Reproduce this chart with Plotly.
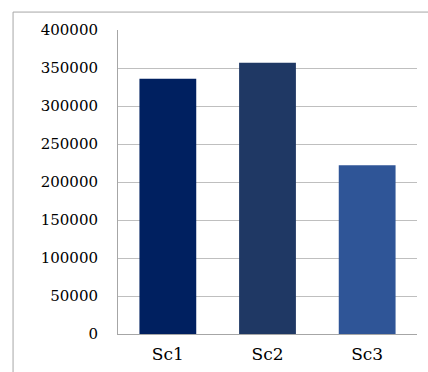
import plotly.graph_objects as go

categories = ["Sc1", "Sc2", "Sc3"]
values = [336000, 357000, 222000]
bar_colors = ["#002060", "#1F3864", "#2F5597"]
y_ticks = [0, 50000, 100000, 150000, 200000, 250000, 300000, 350000, 400000]

SERIF = "DejaVu Serif"

fig = go.Figure(
    go.Bar(
        x=categories,
        y=values,
        marker=dict(color=bar_colors, line=dict(width=0)),
        width=0.57,
    )
)

fig.update_layout(
    width=428,
    height=372,
    margin=dict(l=118, r=11, t=30, b=38),
    paper_bgcolor="white",
    plot_bgcolor="white",
    showlegend=False,
    font=dict(family=SERIF, color="#000000"),
    shapes=[
        dict(type="line", xref="paper", yref="paper", x0=-0.351, x1=1.2, y0=1.059, y1=1.059,
             line=dict(color="#a6a6a6", width=1)),
        dict(type="line", xref="paper", yref="paper", x0=-0.351, x1=-0.351, y0=1.059, y1=-0.3,
             line=dict(color="#a6a6a6", width=1)),
    ],
)

fig.update_yaxes(
    range=[0, 400000],
    tickvals=y_ticks,
    ticktext=[str(v) for v in y_ticks],
    showgrid=True,
    gridcolor="#bfbfbf",
    gridwidth=1,
    showline=True,
    linecolor="#a6a6a6",
    linewidth=1,
    zeroline=False,
    ticks="",
    automargin=False,
    ticklabelstandoff=16,
    tickfont=dict(family=SERIF, size=15, color="#000000"),
)

fig.update_xaxes(
    showline=True,
    linecolor="#a6a6a6",
    linewidth=1,
    showgrid=False,
    ticks="",
    automargin=False,
    ticklabelstandoff=5,
    tickfont=dict(family=SERIF, size=17, color="#000000"),
)

fig.write_html("out.html")
